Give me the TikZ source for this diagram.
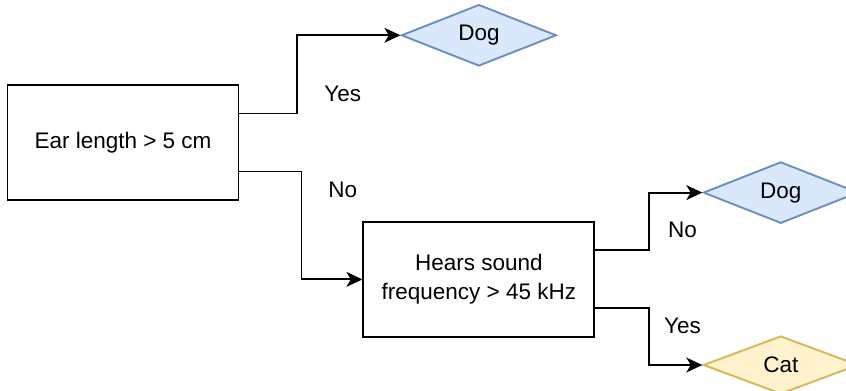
\documentclass[tikz,border=0pt]{standalone}
\usepackage{xcolor}
\usepackage{fontspec}
\setmainfont{Liberation Sans}
\usepackage{tikz}
\usetikzlibrary{arrows.meta,positioning,shapes.geometric,calc}
\definecolor{LeafBlue}{HTML}{DAE8FC}
\definecolor{LeafBlueLine}{HTML}{6C8EBF}
\definecolor{LeafGold}{HTML}{FFF2CC}
\definecolor{LeafGoldLine}{HTML}{D6B656}

\begin{document}
\begin{tikzpicture}[every node/.style={font=\fontsize{16}{20.6}\selectfont}, test/.style={draw=black, line width=1.35pt, fill=white, align=center, minimum width=5.775cm, minimum height=2.875cm}, leaf/.style={diamond, inner sep=0pt, line width=1.35pt, minimum width=3.875cm, minimum height=1.45cm}, dogleaf/.style={leaf, draw=LeafBlueLine, fill=LeafBlue}, catleaf/.style={leaf, draw=LeafGoldLine, fill=LeafGold}, lbl/.style={inner sep=0pt}, arrow/.style={-{Stealth[length=4mm, width=3.7mm, inset=1.1mm]}, line width=1.35pt}]
\useasboundingbox (-3.075,3.5625) rectangle (18.075,-6.1875);
\clip (-3.075,3.5625) rectangle (18.075,-6.1875);
\node[test] (box1) at (0,0) {Ear length > 5 cm};
\node[test, below right=0.5cm and 3.075cm of box1] (box2) {Hears sound\\frequency > 45 kHz};
\node[dogleaf, above=3.85cm of box2] (dog1) {Dog};
\node[dogleaf, above right=2.17cm and 2.675cm of box2.east, anchor=west] (dog2) {Dog};
\node[catleaf, below right=2.14cm and 2.675cm of box2.east, anchor=west] (cat) {Cat};
\foreach \src/\dst/\dy/\dx in {box1/dog1/7.25/1.44, box1/box2/-7.25/1.55, box2/dog2/7.25/1.34, box2/cat/-7.25/1.34}{\draw[arrow] ([yshift=\dy mm]\src.east) -- ++(\dx,0) |- (\dst.west);}
\node[lbl] (yes1) at ([shift={(2.58,1.21)}]box1.east) {Yes};
\node[lbl] (no1) at ([shift={(2.58,-1.19)}]box1.east) {No};
\node[lbl] (no2) at ([shift={(2.18,1.23)}]box2.east) {No};
\node[lbl] (yes2) at ([shift={(2.18,-1.15)}]box2.east) {Yes};
\end{tikzpicture}
\end{document}
